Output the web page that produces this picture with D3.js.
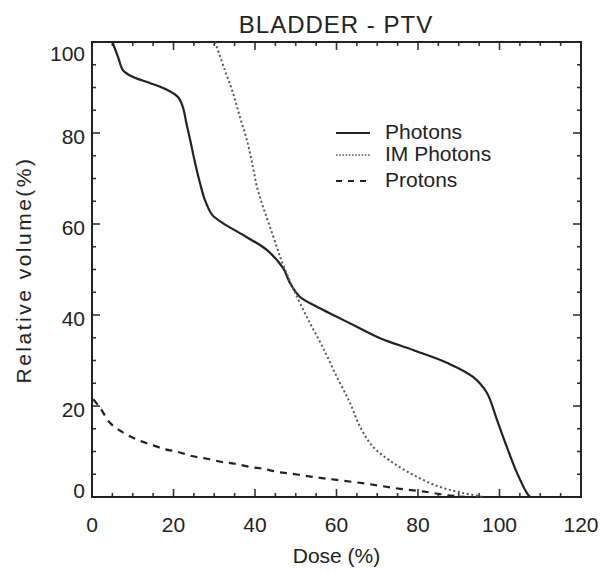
<!DOCTYPE html>
<html>
<head>
<meta charset="utf-8">
<script src="https://cdn.jsdelivr.net/npm/d3@7"></script>
<style>
  body { margin: 0; background: #fff; }
  svg text { font-family: "Liberation Sans", Arial, sans-serif; fill: #222; }
</style>
</head>
<body>
<div id="chart"></div>
<script>
// DVH curves (dose %, relative volume %)
const photonsDose = [5.0, 6.4, 7.6, 10.1, 14.2, 18.4, 21.1, 22.3, 23.2, 24.2, 25.3, 26.5, 27.7, 29.5, 32.1, 38.0, 42.9, 46.9, 48.6, 51.0, 55.2, 60.1, 65.0, 70.7, 78.8, 87.1, 93.5, 96.9, 99.4, 101.8, 104.3, 106.7, 107.5];
const photonsVol  = [100, 96.7, 93.8, 92.3, 91.0, 89.5, 87.9, 85.7, 82.0, 78.0, 73.4, 69.0, 65.3, 62.0, 60.2, 57.1, 54.3, 50.3, 47.0, 44.0, 41.8, 39.6, 37.4, 34.9, 32.3, 29.5, 26.4, 22.9, 16.9, 11.0, 5.3, 0.9, 0];

const imDose = [30.2, 32.6, 34.6, 36.3, 38.0, 39.3, 40.5, 42.0, 43.7, 45.6, 46.9, 50.3, 53.5, 56.7, 60.1, 63.3, 65.8, 69.0, 73.9, 79.8, 85.4, 91.0, 96.0];
const imVol  = [100, 93.8, 88.8, 83.5, 78.5, 73.4, 68.1, 63.7, 59.3, 54.3, 51.0, 44.0, 38.2, 32.8, 26.4, 20.7, 15.4, 11.0, 7.5, 4.4, 2.2, 0.9, 0];

const protonsDose = [0.3, 2.0, 4.4, 7.4, 10.8, 14.2, 17.9, 21.1, 24.5, 28.2, 31.9, 35.1, 38.8, 42.0, 45.6, 49.1, 52.8, 56.0, 59.6, 67.5, 75.6, 82.2, 87.1, 92.0];
const protonsVol  = [21.5, 19.6, 16.3, 14.3, 12.7, 11.6, 10.5, 9.9, 9.0, 8.4, 7.7, 7.3, 6.6, 6.2, 5.5, 5.1, 4.6, 4.2, 3.8, 2.9, 1.8, 1.1, 0.4, 0];

const xTicks = [0, 20, 40, 60, 80, 100, 120];
const yTicks = [0, 20, 40, 60, 80, 100];
const seriesNames = ['Photons', 'IM Photons', 'Protons'];

const W = 601, H = 573;
const margin = { top: 42, right: 20, bottom: 76, left: 92 };
const width = W - margin.left - margin.right;
const height = H - margin.top - margin.bottom;

const svg = d3.select('#chart').append('svg')
    .attr('width', W).attr('height', H);
const g = svg.append('g').attr('transform', `translate(${margin.left},${margin.top})`);

const x = d3.scaleLinear().domain([0, 120]).range([0, width]);
const y = d3.scaleLinear().domain([0, 100]).range([height, 0]);

// minor ticks every 5, major every 20, all pointing inward on four sides
const minor = d3.range(0, 121, 5);
const minorY = d3.range(0, 101, 5);
const tickCol = '#333';

const axisG = g.append('g').attr('stroke', tickCol);
minor.forEach(v => {
    const len = v % 20 === 0 ? 8 : 4;
    axisG.append('line').attr('x1', x(v)).attr('x2', x(v)).attr('y1', height).attr('y2', height - len).attr('stroke-width', 1.6);
    axisG.append('line').attr('x1', x(v)).attr('x2', x(v)).attr('y1', 0).attr('y2', len).attr('stroke-width', 1.6);
});
minorY.forEach(v => {
    const len = v % 20 === 0 ? 8 : 4;
    axisG.append('line').attr('y1', y(v)).attr('y2', y(v)).attr('x1', 0).attr('x2', len).attr('stroke-width', 1.6);
    axisG.append('line').attr('y1', y(v)).attr('y2', y(v)).attr('x1', width).attr('x2', width - len).attr('stroke-width', 1.6);
});

g.append('rect')
    .attr('width', width).attr('height', height)
    .attr('fill', 'none').attr('stroke', '#222').attr('stroke-width', 2);

// tick labels
g.selectAll('.xl').data(xTicks).enter().append('text')
    .attr('x', d => x(d)).attr('y', height + 35)
    .attr('text-anchor', 'middle')
    .style('font-size', '21px')
    .text(d => d);

g.selectAll('.yl').data(yTicks).enter().append('text')
    .attr('x', -7).attr('y', d => y(d) + (d === 100 ? 19 : d === 0 ? 1 : 11))
    .attr('text-anchor', 'end')
    .style('font-size', '21px')
    .text(d => d);

// curves
const line = d3.line()
    .x(d => x(d[0])).y(d => y(Math.max(0, d[1])))
    .curve(d3.curveCatmullRom.alpha(0.5));

const styles = [
    { dash: null, color: '#222', w: 2.2 },
    { dash: '2,2.6', color: '#555', w: 2 },
    { dash: '7,6', color: '#222', w: 2.2 }
];
const series = [
    d3.zip(photonsDose, photonsVol),
    d3.zip(imDose, imVol),
    d3.zip(protonsDose, protonsVol)
];

series.forEach((s, i) => {
    g.append('path')
        .datum(s)
        .attr('d', line)
        .attr('fill', 'none')
        .attr('stroke', styles[i].color)
        .attr('stroke-width', styles[i].w)
        .attr('stroke-dasharray', styles[i].dash);
});

// legend
const legY = [133, 155, 181];
seriesNames.forEach((name, i) => {
    svg.append('line')
        .attr('x1', 336).attr('x2', 370)
        .attr('y1', legY[i]).attr('y2', legY[i])
        .attr('stroke', styles[i].color)
        .attr('stroke-width', i === 1 ? 1.6 : 2)
        .attr('stroke-dasharray', i === 1 ? '1.6,1.6' : i === 2 ? '6,6' : null);
    svg.append('text')
        .attr('x', 385).attr('y', legY[i] + 6)
        .style('font-size', '21px')
        .text(name);
});

// title and axis titles
svg.append('text')
    .attr('x', 336).attr('y', 33)
    .attr('text-anchor', 'middle')
    .style('font-size', '24px')
    .style('letter-spacing', '1px')
    .text('BLADDER - PTV');

svg.append('text')
    .attr('x', margin.left + x(60)).attr('y', 563)
    .attr('text-anchor', 'middle')
    .style('font-size', '21px')
    .text('Dose (%)');

svg.append('text')
    .attr('transform', `translate(31,270) rotate(-90)`)
    .attr('text-anchor', 'middle')
    .style('font-size', '21px')
    .style('letter-spacing', '2.5px')
    .text('Relative volume(%)');
</script>
</body>
</html>
